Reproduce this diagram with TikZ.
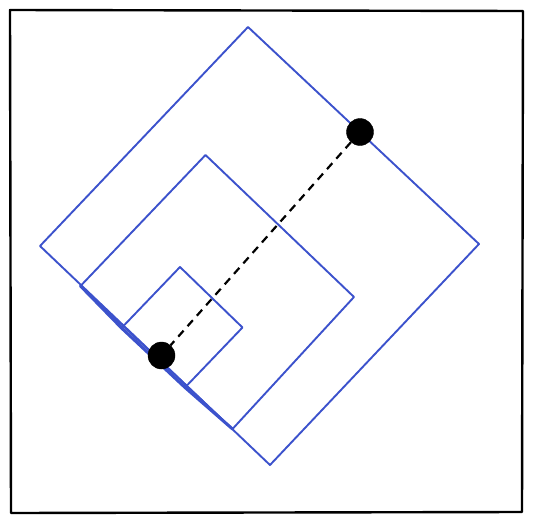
\documentclass[tikz,border=0pt]{standalone}
\definecolor{sqblue}{RGB}{60,82,204}
\begin{document}
\begin{tikzpicture}[x=1pt,y=-1pt,
  frame/.style={draw=black,line width=2.4pt,line join=round},
  sq/.style={draw=sqblue,line width=1.9pt,line join=round},
  sqthick/.style={draw=sqblue,line width=3pt,line cap=round},
  dot/.style={circle,fill=black,draw=black,inner sep=0pt,minimum size=27pt},
  link/.style={draw=black,line width=2.2pt,dash pattern=on 8pt off 6pt}]
\useasboundingbox (0,0) rectangle (533,522);
\draw[frame] (10,10) -- (523,11) -- (522,512) -- (11,513) -- cycle;
% large square
\coordinate (LT) at (248,27);
\coordinate (LR) at (479,244);
\coordinate (LB) at (270,465);
\coordinate (LL) at (40,246);
\draw[sq] (LT) -- (LR) -- (LB) -- (LL) -- cycle;
% medium square
\coordinate (MT) at (205.5,155);
\coordinate (MR) at (354,297);
\coordinate (MB) at (232.5,429);
\coordinate (ML) at (80.5,286);
\draw[sq] (MT) -- (MR) -- (MB) -- (ML) -- cycle;
% small square
\coordinate (ST) at (180,267);
\coordinate (SR) at (242.5,327.5);
\coordinate (SB) at (185,387.5);
\coordinate (SL) at (121.5,328);
\draw[sq] (ST) -- (SR) -- (SB) -- (SL) -- cycle;
% overlapping strokes along the lower-left edge
\draw[sqthick] (ML) -- (SL) -- (SB) -- (MB);
% dots and connector
\node[dot] (p) at (360,132) {};
\node[dot] (q) at (161.5,355.5) {};
\draw[link] (p) -- (q);
\end{tikzpicture}
\end{document}
